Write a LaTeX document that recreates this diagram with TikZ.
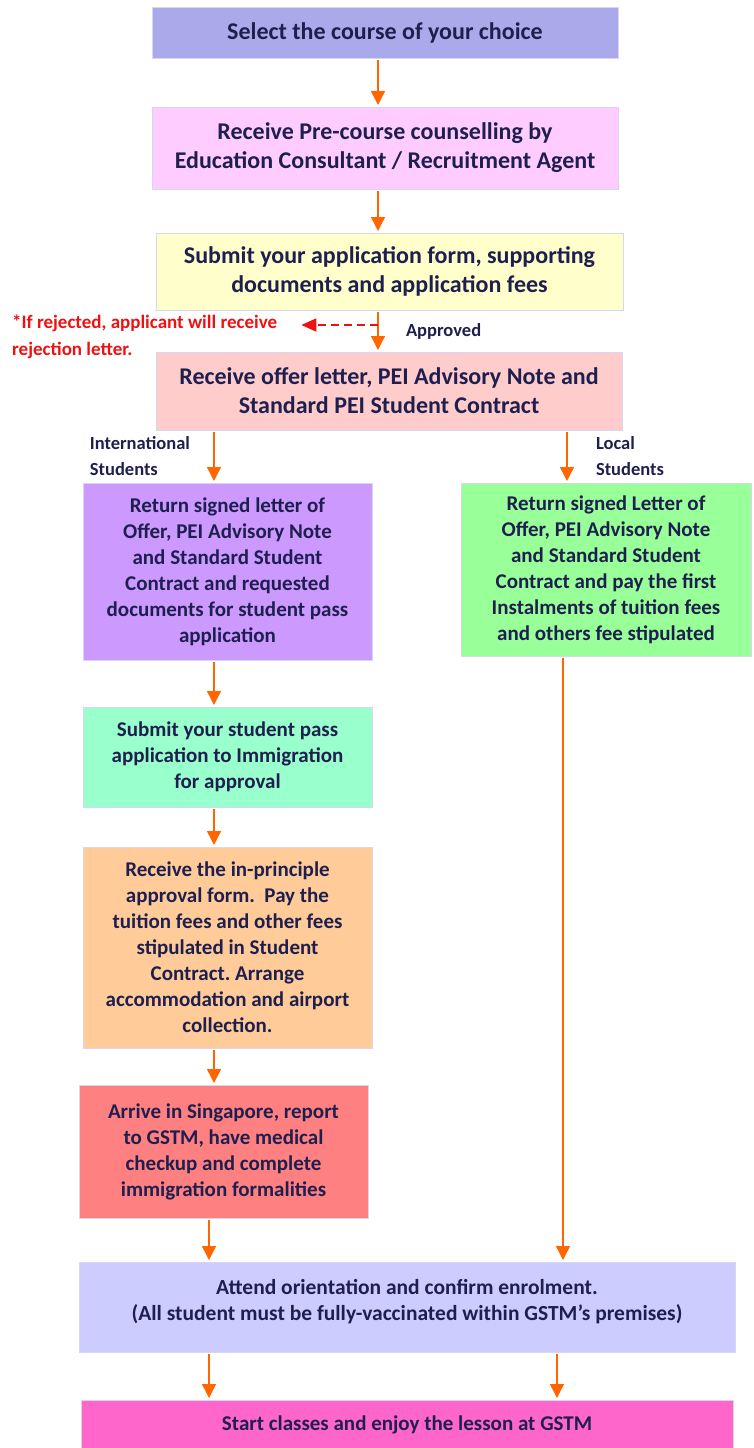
\documentclass[tikz,border=0pt]{standalone}
\usepackage{fontspec}
\setmainfont{Carlito}
\usetikzlibrary{arrows.meta, positioning, calc}
\frenchspacing

\definecolor{navytext}{HTML}{1F1F4F}
\definecolor{edgeline}{HTML}{D6D6F2}
\definecolor{flowarrow}{HTML}{FF6600}
\definecolor{rejectred}{HTML}{EE1111}
\definecolor{selectfill}{HTML}{AAA9E9}
\definecolor{counselfill}{HTML}{FFCCFF}
\definecolor{submitfill}{HTML}{FFFFCC}
\definecolor{offerfill}{HTML}{FFCCCC}
\definecolor{intlfill}{HTML}{CC99FF}
\definecolor{localfill}{HTML}{99FF99}
\definecolor{passfill}{HTML}{99FFCC}
\definecolor{approvalfill}{HTML}{FFCC99}
\definecolor{arrivefill}{HTML}{FF8080}
\definecolor{orientfill}{HTML}{CCCCFF}
\definecolor{classfill}{HTML}{FF66CC}

\begin{document}
\begin{tikzpicture}[
  x=1pt, y=1pt,
  box/.style = {draw=edgeline, line width=0.8pt, align=center, text=navytext,
                font=\bfseries\fontsize{24}{29}\selectfont, inner sep=0pt, outer sep=0pt},
  smallbox/.style = {box, font=\bfseries\fontsize{21}{26}\selectfont},
  arrow/.style = {draw=flowarrow, line width=1.4pt, shorten <=2pt, shorten >=2pt,
                  -{Triangle[width=14pt,length=14pt]}},
  note/.style = {text=navytext, font=\bfseries\fontsize{18.5}{26}\selectfont, align=left},
  node distance=40pt
]
\useasboundingbox (0,0) rectangle (754,-1448);

% ======================================================
% Common steps (top)
% ======================================================
\node[box, fill=selectfill, minimum width=466pt, minimum height=51pt] (select) at (385,-32.5)
  {Select the course of your choice};

\node[box, fill=counselfill, minimum width=466pt, minimum height=82pt,
      below=49pt of select] (counsel)
  {Receive Pre-course counselling by\\Education Consultant / Recruitment Agent};

\node[box, fill=submitfill, minimum width=467pt, minimum height=77pt,
      below=44pt of counsel, xshift=4.5pt] (submit)
  {Submit your application form, supporting\\documents and application fees};

\node[box, fill=offerfill, minimum width=466pt, minimum height=78pt,
      below=42pt of submit, xshift=-0.5pt] (offer)
  {Receive offer letter, PEI Advisory Note and\\Standard PEI Student Contract};

% spine of the top arrows
\coordinate (spine) at ([xshift=-7pt]select.south);
\draw[arrow] (spine |- select.south) -- (spine |- counsel.north);
\draw[arrow] (spine |- counsel.south) -- (spine |- submit.north);
\draw[arrow] (spine |- submit.south) -- node[midway, right=24pt, note] {Approved} (spine |- offer.north);

% rejected branch
\node[text=rejectred, font=\bfseries\fontsize{19}{27}\selectfont, align=left,
      anchor=north west, inner sep=0pt] (reject) at (12,-315)
  {*If rejected, applicant will receive\\rejection letter.};
\coordinate (split) at ($(spine |- submit.south)+(0,-15)$);
\draw[rejectred, line width=1.8pt, dashed, dash pattern=on 8pt off 5pt,
      -{Triangle[width=13pt,length=15pt]}] (split) -- ($(split -| reject.east)+(24,0)$);

% ======================================================
% International students (left column)
% ======================================================
\node[smallbox, fill=intlfill, minimum width=289pt, minimum height=177pt,
      below=53pt of offer, xshift=-161.5pt] (intl)
  {Return signed letter of\\Offer, PEI Advisory Note\\and Standard Student\\Contract and requested\\documents for student pass\\application};

\node[smallbox, fill=passfill, minimum width=289pt, minimum height=100pt,
      below=47pt of intl] (pass)
  {Submit your student pass\\application to Immigration\\for approval};

\node[smallbox, fill=approvalfill, minimum width=289pt, minimum height=201pt,
      below=40pt of pass] (approval)
  {Receive the in-principle\\approval form.\ \ Pay the\\tuition fees and other fees\\stipulated in Student\\Contract. Arrange\\accommodation and airport\\collection.};

\node[smallbox, fill=arrivefill, minimum width=289pt, minimum height=133pt,
      below=37pt of approval, xshift=-4pt] (arrive)
  {Arrive in Singapore, report\\to GSTM, have medical\\checkup and complete\\immigration formalities};

\coordinate (intlx) at ([xshift=-13.5pt]intl.north);
\draw[arrow] (intlx |- offer.south) -- node[midway, left=20pt, note] {International\\Students} (intlx |- intl.north);
\draw[arrow] (intlx |- intl.south) -- (intlx |- pass.north);
\draw[arrow] (intlx |- pass.south) -- (intlx |- approval.north);
\draw[arrow] (intlx |- approval.south) -- (intlx |- arrive.north);

% ======================================================
% Local students (right column)
% ======================================================
\node[smallbox, fill=localfill, minimum width=290pt, minimum height=173pt,
      below=53pt of offer, xshift=217pt] (local)
  {Return signed Letter of\\Offer, PEI Advisory Note\\and Standard Student\\Contract and pay the first\\Instalments of tuition fees\\and others fee stipulated};

\coordinate (localx) at ([xshift=-39pt]local.north);
\draw[arrow] (localx |- offer.south) -- node[midway, right=25pt, note] {Local\\Students} (localx |- local.north);

% ======================================================
% Orientation and classes (bottom)
% ======================================================
\node[box, fill=orientfill, font=\bfseries\fontsize{21.5}{26}\selectfont,
      minimum width=656pt, minimum height=90pt, below=44pt of arrive, xshift=183.5pt] (orient)
  {Attend orientation and confirm enrolment.\\(All student must be fully-vaccinated within GSTM’s premises)\\[-12pt]};

\node[box, fill=classfill, font=\bfseries\fontsize{21}{26}\selectfont,
      minimum width=652pt, minimum height=56pt, below=48pt of orient, anchor=north] (classes)
  {Start classes and enjoy the lesson at GSTM\\[-16pt]};

\coordinate (leftx) at ([xshift=-14.5pt]arrive.south);
\coordinate (rightx) at ([xshift=-43pt]local.south);
\draw[arrow] (leftx |- arrive.south) -- (leftx |- orient.north);
\draw[arrow] (rightx |- local.south) -- (rightx |- orient.north);
\draw[arrow] (leftx |- orient.south) -- (leftx |- classes.north);
\draw[arrow] ([xshift=-6pt]rightx |- orient.south) -- ([xshift=-6pt]rightx |- classes.north);
\end{tikzpicture}
\end{document}
